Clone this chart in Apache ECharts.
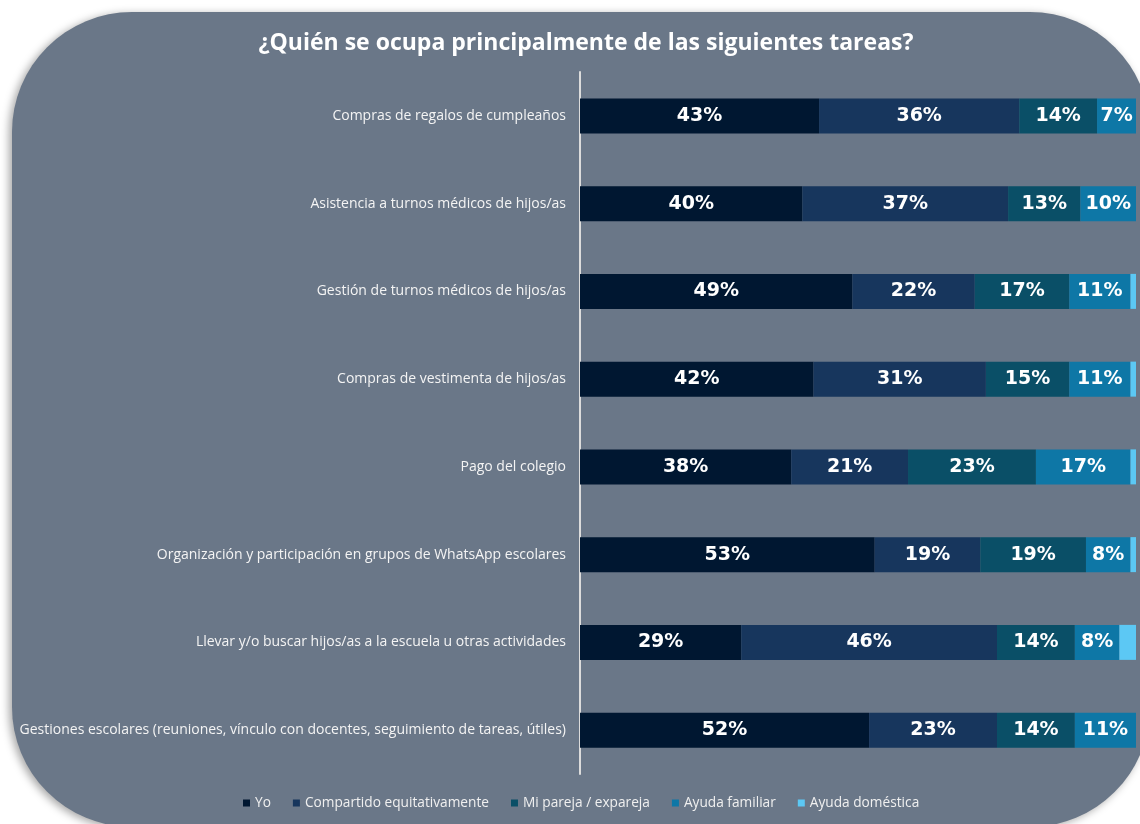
<!DOCTYPE html>
<html>
<head>
<meta charset="utf-8">
<script src="https://cdn.jsdelivr.net/npm/echarts@6/dist/echarts.min.js"></script>
<style>
  html, body { margin: 0; padding: 0; background: #ffffff; }
  #chart { width: 1140px; height: 824px; }
</style>
</head>
<body>
<div id="chart"></div>
<script>
// tareas (de arriba hacia abajo)
const tareas = [
  "Compras de regalos de cumpleaños",
  "Asistencia a turnos médicos de hijos/as",
  "Gestión de turnos médicos de hijos/as",
  "Compras de vestimenta de hijos/as",
  "Pago del colegio",
  "Organización y participación en grupos de WhatsApp escolares",
  "Llevar y/o buscar hijos/as a la escuela u otras actividades",
  "Gestiones escolares (reuniones, vínculo con docentes, seguimiento de tareas, útiles)"
];

const yo = [43, 40, 49, 42, 38, 53, 29, 52];
const compartido = [36, 37, 22, 31, 21, 19, 46, 23];
const pareja = [14, 13, 17, 15, 23, 19, 14, 14];
const familiar = [7, 10, 11, 11, 17, 8, 8, 11];
const domestica = [0, 0, 1, 1, 1, 1, 3, 0];

const nombres = ["Yo", "Compartido equitativamente", "Mi pareja / expareja", "Ayuda familiar", "Ayuda doméstica"];
const colores = ["#001731", "#17365d", "#0a4f67", "#0e77a6", "#5cc8f4"];

const chart = echarts.init(document.getElementById("chart"));

// serie apilada con etiqueta dentro (se ocultan los valores chicos)
function serie(nombre, datos, color) {
  return {
    name: nombre,
    type: "bar",
    stack: "total",
    barWidth: 35,
    data: datos,
    itemStyle: { color: color },
    label: {
      show: true,
      position: "inside",
      color: "#ffffff",
      fontFamily: "DejaVu Sans",
      fontWeight: "bold",
      fontSize: 19,
      formatter: (p) => (p.value >= 5 ? p.value + "%" : "")
    }
  };
}

const option = {
  backgroundColor: "#ffffff",
  graphic: [
    {
      type: "rect",
      z: -10,
      shape: { x: 12, y: 12, width: 1138, height: 815, r: 120 },
      style: {
        fill: "#6a7788",
        shadowBlur: 8,
        shadowColor: "rgba(0,0,0,0.35)",
        shadowOffsetX: -3,
        shadowOffsetY: 2
      }
    }
  ],
  title: {
    text: "¿Quién se ocupa principalmente de las siguientes tareas?",
    left: 581,
    top: 27,
    textAlign: "center",
    textStyle: {
      color: "#ffffff",
      fontFamily: "Open Sans",
      fontWeight: "bold",
      fontSize: 23
    }
  },
  legend: {
    bottom: 9,
    left: 238,
    data: nombres,
    icon: "rect",
    itemWidth: 7,
    itemHeight: 7,
    itemGap: 22,
    textStyle: {
      color: "#f0f0f0",
      fontFamily: "Open Sans",
      fontSize: 13.7
    }
  },
  grid: {
    left: 580,
    top: 72,
    width: 556,
    height: 702
  },
  xAxis: {
    type: "value",
    min: 0,
    max: 100,
    show: false
  },
  yAxis: {
    type: "category",
    data: tareas,
    inverse: true,
    axisLine: { show: true, lineStyle: { color: "#dcdcdc", width: 2 } },
    axisTick: { show: false },
    axisLabel: {
      color: "#f4f4f4",
      fontFamily: "Open Sans",
      fontSize: 14,
      margin: 14
    }
  },
  series: [
    serie(nombres[0], yo, colores[0]),
    serie(nombres[1], compartido, colores[1]),
    serie(nombres[2], pareja, colores[2]),
    serie(nombres[3], familiar, colores[3]),
    serie(nombres[4], domestica, colores[4])
  ]
};

chart.setOption(option);
</script>
</body>
</html>
